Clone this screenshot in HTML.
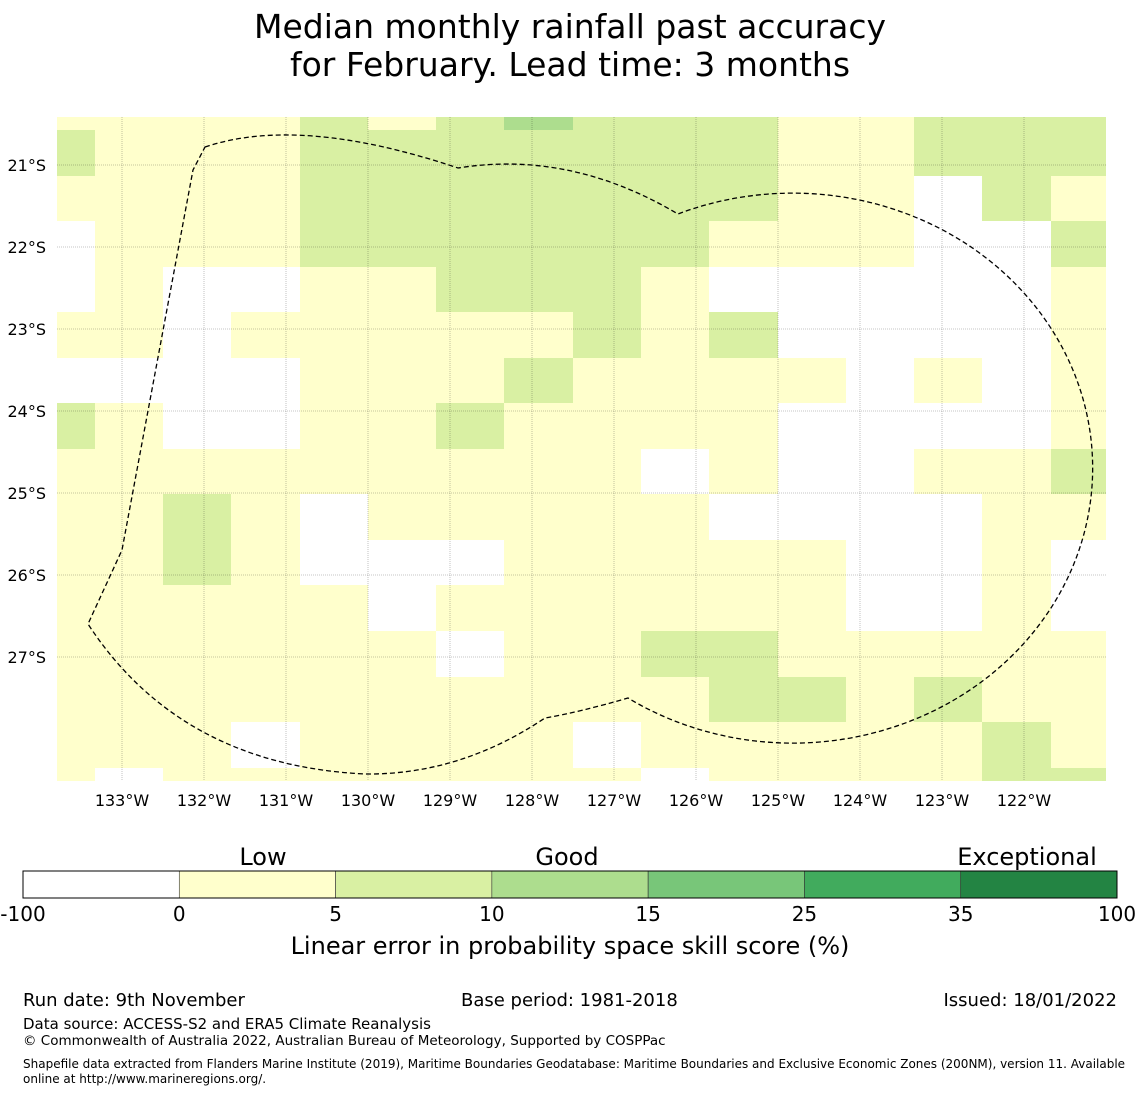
<!DOCTYPE html>
<html><head><meta charset="utf-8">
<style>
body{margin:0;background:#fff;font-family:"Liberation Sans","DejaVu Sans",sans-serif;}
#wrap{position:relative;width:1140px;height:1095px;overflow:hidden;}
.t{position:absolute;white-space:nowrap;color:#000;}
</style></head>
<body>
<div id="wrap">
<div class="t" style="left:0;width:1140px;text-align:center;top:8px;font-size:33px;line-height:38px;font-family:'DejaVu Sans',sans-serif;">Median monthly rainfall past accuracy<br>for February. Lead time: 3 months</div>
<svg id="map" width="1140" height="1095" style="position:absolute;left:0;top:0" font-family="DejaVu Sans, sans-serif"></svg>
<div class="t" style="left:23px;top:990px;font-size:18px;font-family:'DejaVu Sans',sans-serif;">Run date: 9th November</div>
<div class="t" style="left:461px;top:990px;font-size:18px;font-family:'DejaVu Sans',sans-serif;">Base period: 1981-2018</div>
<div class="t" style="right:23px;top:990px;font-size:18px;font-family:'DejaVu Sans',sans-serif;">Issued: 18/01/2022</div>
<div class="t" style="left:23px;top:1015px;font-size:15px;font-family:'DejaVu Sans',sans-serif;">Data source: ACCESS-S2 and ERA5 Climate Reanalysis</div>
<div class="t" style="left:23px;top:1033px;font-size:13.5px;font-family:'DejaVu Sans',sans-serif;">© Commonwealth of Australia 2022, Australian Bureau of Meteorology, Supported by COSPPac</div>
<div class="t" style="left:23px;top:1057px;font-size:12px;line-height:15px;font-family:'DejaVu Sans',sans-serif;">Shapefile data extracted from Flanders Marine Institute (2019), Maritime Boundaries Geodatabase: Maritime Boundaries and Exclusive Economic Zones (200NM), version 11. Available<br>online at http://www.marineregions.org/.</div>
</div>
<script>
// Grid data: category per cell (0 white, 1 yellow 0-5, 2 light green 5-10, 3 green 10-15)
const colEdges=[57,95,163,231,300,368,436,504,573,641,709,778,846,914,982,1051,1106];
const rowEdges=[117,130,176,221,267,312,358,403,449,494,540,585,631,677,722,768,781];
const cells=[
"1111212322211222",
"2111222222211222",
"1111222222211021",
"0111222222111002",
"0100112221000001",
"1101111121200001",
"0000111211110101",
"2100112111100001",
"1111111110100112",
"1121011111000011",
"1121000111110010",
"1111101111110010",
"1111110112211111",
"1111111111221211",
"1110111101111121",
"1011111110111122"
];
const lonLabels=["133°W","132°W","131°W","130°W","129°W","128°W","127°W","126°W","125°W","124°W","123°W","122°W"];
const latLabels=["21°S","22°S","23°S","24°S","25°S","26°S","27°S"];
const cbTicks=["-100","0","5","10","15","25","35","100"];
const cbColors=["#ffffff","#ffffcc","#d9f0a3","#addd8e","#78c679","#41ab5d","#238443"];
const NS="http://www.w3.org/2000/svg";
const svg=document.getElementById('map');
function mk(tag,attrs,parent){const e=document.createElementNS(NS,tag);for(const k in attrs)e.setAttribute(k,attrs[k]);(parent||svg).appendChild(e);return e;}
const lonX=i=>122+82*i, latY=i=>165+82*i;
cells.forEach((row,r)=>{[...row].forEach((ch,c)=>{
  const v=+ch; if(v===0) return;
  const e=mk('rect',{x:colEdges[c],y:rowEdges[r],width:colEdges[c+1]-colEdges[c],height:rowEdges[r+1]-rowEdges[r],fill:cbColors[v]});
  
  
});});
lonLabels.forEach((l,i)=>{
  const g=mk('line',{x1:lonX(i),x2:lonX(i),y1:117,y2:781,stroke:'#000','stroke-opacity':0.3,'stroke-width':0.8,'stroke-dasharray':'1,1'});
  
  
  const t=mk('text',{x:lonX(i),y:806,'font-size':16,'text-anchor':'middle'});t.textContent=l;
  
  
});
latLabels.forEach((l,i)=>{
  const g=mk('line',{x1:57,x2:1106,y1:latY(i),y2:latY(i),stroke:'#000','stroke-opacity':0.3,'stroke-width':0.8,'stroke-dasharray':'1,1'});
  
  
  const t=mk('text',{x:46,y:latY(i)+6,'font-size':16,'text-anchor':'end'});t.textContent=l;
  
  
});
const b=mk('path',{d:"M205,147 Q300,115 458,168 Q570,150 678,214 A300 275 0 1 1 628,698 Q580,712 545,718 Q460,775 365,774 Q180,765 88,624 L122,550 L193,170 Z",fill:'none',stroke:'#000','stroke-width':1.3,'stroke-dasharray':'5,3'});


// colorbar
const cbX0=23,cbW=1094/7;
cbColors.forEach((c,i)=>{
  const r=mk('rect',{x:cbX0+i*cbW,y:871,width:cbW,height:27,fill:c,stroke:'#333','stroke-width':0.6});
  
  
});
mk('rect',{x:23,y:871,width:1094,height:27,fill:'none',stroke:'#000','stroke-width':1});
cbTicks.forEach((l,i)=>{
  const t=mk('text',{x:cbX0+i*cbW,y:921,'font-size':20,'text-anchor':'middle'});t.textContent=l;
  
  
});
[["Low",263],["Good",567],["Exceptional",1027]].forEach(([l,x])=>{
  const t=mk('text',{x:x,y:865,'font-size':24,'text-anchor':'middle'});t.textContent=l;
  
  
});
const xt=mk('text',{x:570,y:954,'font-size':24,'text-anchor':'middle'});xt.textContent="Linear error in probability space skill score (%)";


</script>
</body></html>
